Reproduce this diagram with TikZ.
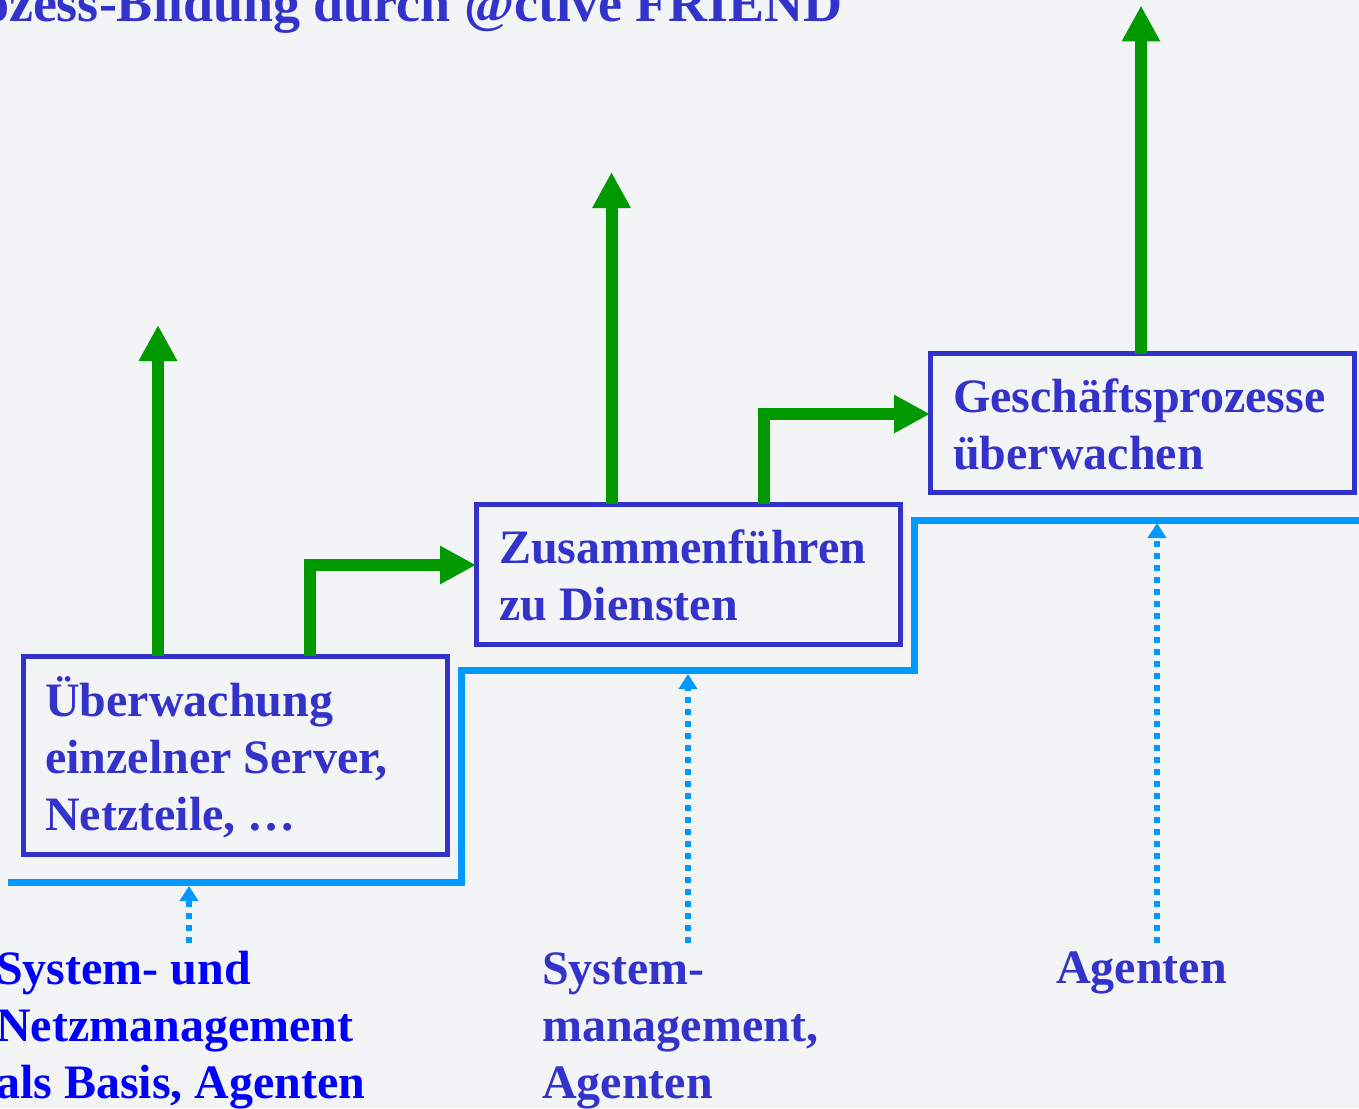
\documentclass[tikz,border=0pt]{standalone}
\usepackage{fontspec}
\setmainfont{Liberation Serif}
\usetikzlibrary{arrows.meta}
\definecolor{bg}{HTML}{F3F4F6}
\definecolor{boxblue}{HTML}{3333CC}
\definecolor{grn}{HTML}{009900}
\definecolor{lblue}{HTML}{0099FF}
\definecolor{pblue}{HTML}{0000FF}
\begin{document}
\begin{tikzpicture}[x=1pt,y=-1pt,
  box/.style={draw=boxblue,line width=5pt,inner sep=0pt,outer sep=0pt,minimum width=424pt},
  txt/.style={text=boxblue,font=\bfseries\fontsize{48}{57}\selectfont,align=left,inner sep=0pt,anchor=base west},
  garrow/.style={draw=grn,line width=12pt,line join=miter,-{Triangle[width=36pt,length=36pt]}},
  dotarrow/.style={draw=lblue,line width=6pt,dash pattern=on 6pt off 6pt,-{Triangle[width=18pt,length=15pt]}},
  stair/.style={draw=lblue,line width=7pt,line join=miter}]
\fill[bg] (0,0) rectangle (1359,1108);
\useasboundingbox (0,0) rectangle (1359,1108);
\clip (0,0) rectangle (1359,1108);

% title
\node[font=\bfseries\fontsize{54}{62}\selectfont,text=boxblue,anchor=base east,inner sep=0pt] (title) at (843,22) {Prozess-Bildung durch @ctive FRIEND};

% staircase
\draw[stair] (8,882) -- (461,882) -- (461,670) -- (914,670) -- (914,520) -- (1370,520);

% boxes
\node[box,minimum height=198pt] (b1) at (235,755) {};
\node[box,minimum height=140pt] (b2) at (688,574) {};
\node[box,minimum height=139pt] (b3) at (1142,423) {};

% box texts (base = last line)
\node[txt] (t1) at (45,830) {Überwachung\\einzelner Server,\\Netzteile, …};
\node[txt] (t2) at (499,620) {Zusammenführen\\zu Diensten};
\node[txt] (t3) at (953,469) {Geschäftsprozesse\\überwachen};

% green arrows
\draw[garrow] ([xshift=135pt]b1.north west) -- ++(0,-331);
\draw[garrow] ([xshift=287pt]b1.north west) |- ([yshift=9pt]b2.west);
\draw[garrow] ([xshift=135.5pt]b2.north west) -- ++(0,-332);
\draw[garrow] ([xshift=287.5pt]b2.north west) |- ([yshift=9pt]b3.west);
\draw[garrow] ([xshift=211pt]b3.north west) -- ++(0,-348);

% dotted arrows
\coordinate (d1s) at (189,943); \coordinate (d1e) at (189,886);
\coordinate (d2s) at (688,943); \coordinate (d2e) at (688,674);
\coordinate (d3s) at (1157,943); \coordinate (d3e) at (1157,523);
\draw[dotarrow] (d1s) -- (d1e);
\draw[dotarrow] (d2s) -- (d2e);
\draw[dotarrow] (d3s) -- (d3e);

% bottom labels (base = last line)
\node[txt,text=pblue] (l1) at (-4,1098) {System- und\\Netzmanagement\\als Basis, Agenten};
\node[txt] (l2) at (542,1098) {System-\\management,\\Agenten};
\node[txt] (l3) at (1056,983) {Agenten};
\end{tikzpicture}
\end{document}
